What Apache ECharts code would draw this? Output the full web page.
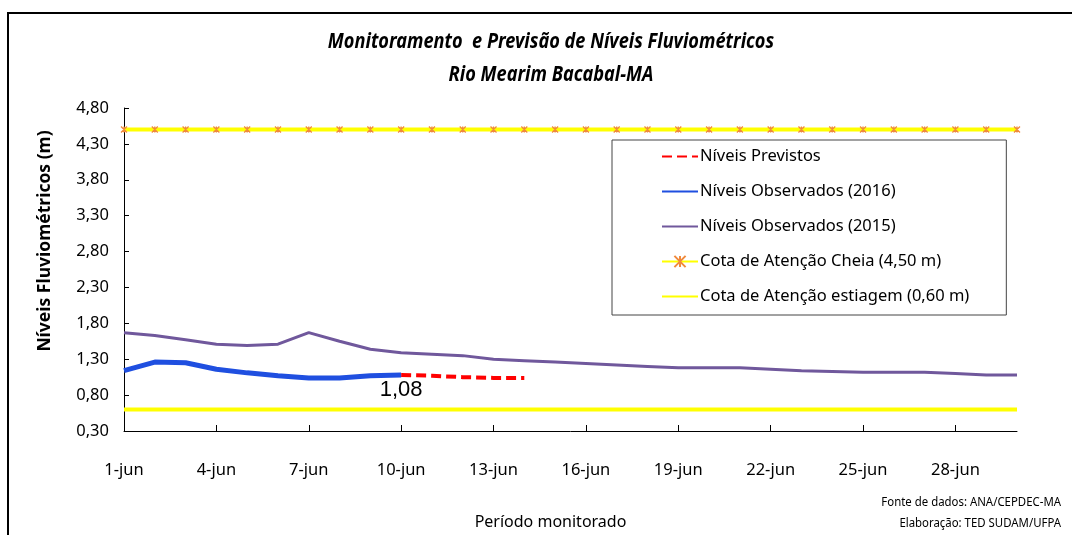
<!DOCTYPE html>
<html>
<head>
<meta charset="utf-8">
<script src="https://cdn.jsdelivr.net/npm/echarts@6/dist/echarts.min.js"></script>
<style>
	html, body { margin: 0; padding: 0; background: #fff; }
	#chart { width: 1072px; height: 535px; }
</style>
</head>
<body>
<div id="chart"></div>
<script>
	// dias de junho
	var dias = [];
	for (var d = 1; d <= 30; d++) {
		dias.push(d + '-jun');
	}

	var previstos = [null, null, null, null, null, null, null, null, null, 1.08, 1.07, 1.05, 1.04, 1.04];
	var observados2016 = [1.14, 1.26, 1.25, 1.16, 1.11, 1.07, 1.04, 1.04, 1.07, 1.08];
	var observados2015 = [1.67, 1.63, 1.57, 1.51, 1.49, 1.51, 1.67, 1.55, 1.44, 1.39,
		1.37, 1.35, 1.30, 1.28, 1.26, 1.24, 1.22, 1.20, 1.18, 1.18,
		1.18, 1.16, 1.14, 1.13, 1.12, 1.12, 1.12, 1.10, 1.08, 1.08];
	var cotaCheia = dias.map(function () { return 4.50; });
	var cotaEstiagem = dias.map(function () { return 0.60; });

	var nomes = [
		'Níveis Previstos',
		'Níveis Observados (2016)',
		'Níveis Observados (2015)',
		'Cota de Atenção Cheia (4,50 m)',
		'Cota de Atenção estiagem (0,60 m)'
	];

	var fonteTxt = 'Noto Sans';

	var chart = echarts.init(document.getElementById('chart'));

	function virgula(v) {
		return v.toFixed(2).replace('.', ',');
	}

	var option = {
		animation: false,
		backgroundColor: '#fff',
		legend: {
			data: nomes.map(function (n, i) {
				// só a cota de cheia tem marcador na legenda
				return i === 3 ? { name: n } : { name: n, itemStyle: { opacity: 0 } };
			}),
			orient: 'vertical',
			left: 612,
			top: 140,
			padding: [8, 37, 10, 49],
			itemWidth: 36,
			itemHeight: 14,
			itemGap: 18,
			backgroundColor: '#fff',
			borderColor: '#444',
			borderWidth: 1,
			textStyle: {
				fontFamily: fonteTxt,
				fontSize: 16.5,
				color: '#000',
				padding: [0, 0, 0, -3]
			}
		},
		grid: {
			left: 124,
			right: 55,
			top: 108,
			bottom: 103
		},
		xAxis: {
			type: 'category',
			data: dias,
			boundaryGap: false,
			name: 'Período monitorado',
			nameLocation: 'middle',
			nameGap: 83,
			nameTextStyle: {
				fontFamily: fonteTxt,
				fontSize: 16,
				color: '#000',
				padding: [0, 40, 0, 0]
			},
			axisLine: { lineStyle: { color: '#000', width: 1 } },
			axisTick: { inside: true, length: 6, interval: 2, lineStyle: { color: '#000' } },
			axisLabel: {
				interval: 2,
				margin: 31,
				fontFamily: fonteTxt,
				fontSize: 16.5,
				color: '#000'
			},
			splitLine: { show: false }
		},
		yAxis: {
			type: 'value',
			min: 0.3,
			max: 4.8,
			interval: 0.5,
			axisLine: { show: true, lineStyle: { color: '#000', width: 1 } },
			axisTick: { show: true, inside: true, length: 5, lineStyle: { color: '#000' } },
			axisLabel: {
				margin: 15,
				fontFamily: fonteTxt,
				fontSize: 16.5,
				color: '#000',
				formatter: virgula
			},
			splitLine: { show: false }
		},
		series: [
			{
				name: nomes[3],
				type: 'line',
				data: cotaCheia,
				symbol: 'path://M0,0L10,10M10,0L0,10M5,0L5,10',
				symbolSize: 6,
				showSymbol: true,
				itemStyle: { color: '#F6A05A', borderColor: '#F08A3C', borderWidth: 1.3 },
				lineStyle: { color: '#FFFF00', width: 4 },
				z: 2
			},
			{
				name: nomes[4],
				type: 'line',
				data: cotaEstiagem,
				symbol: 'none',
				itemStyle: { color: '#FFFF00' },
				lineStyle: { color: '#FFFF00', width: 4 },
				z: 2
			},
			{
				name: nomes[2],
				type: 'line',
				data: observados2015,
				symbol: 'none',
				itemStyle: { color: '#70589C' },
				lineStyle: { color: '#70589C', width: 3 },
				z: 3
			},
			{
				name: nomes[0],
				type: 'line',
				data: previstos,
				symbol: 'none',
				itemStyle: { color: '#FF0000' },
				lineStyle: { color: '#FF0000', width: 4, type: [10, 5] },
				z: 4
			},
			{
				name: nomes[1],
				type: 'line',
				data: observados2016.map(function (v, i) {
					if (i === observados2016.length - 1) {
						return {
							value: v,
							label: {
								show: true,
								position: 'bottom',
								distance: 4,
								fontFamily: 'Liberation Sans',
								fontSize: 22,
								color: '#000',
								formatter: function (p) {
									return virgula(p.value);
								}
							}
						};
					}
					return v;
				}),
				symbol: 'circle',
				symbolSize: 0,
				showSymbol: true,
				itemStyle: { color: '#1F4FE0' },
				lineStyle: { color: '#1F4FE0', width: 5 },
				z: 5
			}
		],
		graphic: [
			{
				type: 'polyline',
				shape: { points: [[8, 560], [8, 13], [1072, 13]] },
				style: { stroke: '#000', lineWidth: 2, fill: null },
				silent: true
			},
			{
				type: 'text',
				x: 45,
				y: 241,
				rotation: Math.PI / 2,
				style: {
					text: 'Níveis Fluviométricos (m)',
					fontFamily: fonteTxt,
					fontWeight: 'bold',
					fontSize: 17.5,
					fill: '#000',
					textAlign: 'center',
					textVerticalAlign: 'middle'
				}
			},
			{
				type: 'text',
				x: 551,
				y: 42,
				scaleX: 0.865,
				style: {
					text: 'Monitoramento  e Previsão de Níveis Fluviométricos',
					fontFamily: fonteTxt,
					fontStyle: 'italic',
					fontWeight: 'bold',
					fontSize: 21,
					fill: '#000',
					textAlign: 'center',
					textVerticalAlign: 'middle'
				}
			},
			{
				type: 'text',
				x: 551,
				y: 75,
				scaleX: 0.865,
				style: {
					text: 'Rio Mearim Bacabal-MA',
					fontFamily: fonteTxt,
					fontStyle: 'italic',
					fontWeight: 'bold',
					fontSize: 21,
					fill: '#000',
					textAlign: 'center',
					textVerticalAlign: 'middle'
				}
			},
			{
				type: 'text',
				x: 1061,
				y: 503,
				scaleX: 0.95,
				style: {
					text: 'Fonte de dados: ANA/CEPDEC-MA',
					fontFamily: fonteTxt,
					fontSize: 12,
					fill: '#000',
					textAlign: 'right',
					textVerticalAlign: 'middle'
				}
			},
			{
				type: 'text',
				x: 1061,
				y: 524,
				scaleX: 0.95,
				style: {
					text: 'Elaboração: TED SUDAM/UFPA',
					fontFamily: fonteTxt,
					fontSize: 12,
					fill: '#000',
					textAlign: 'right',
					textVerticalAlign: 'middle'
				}
			}
		]
	};

	chart.setOption(option);
</script>
</body>
</html>
